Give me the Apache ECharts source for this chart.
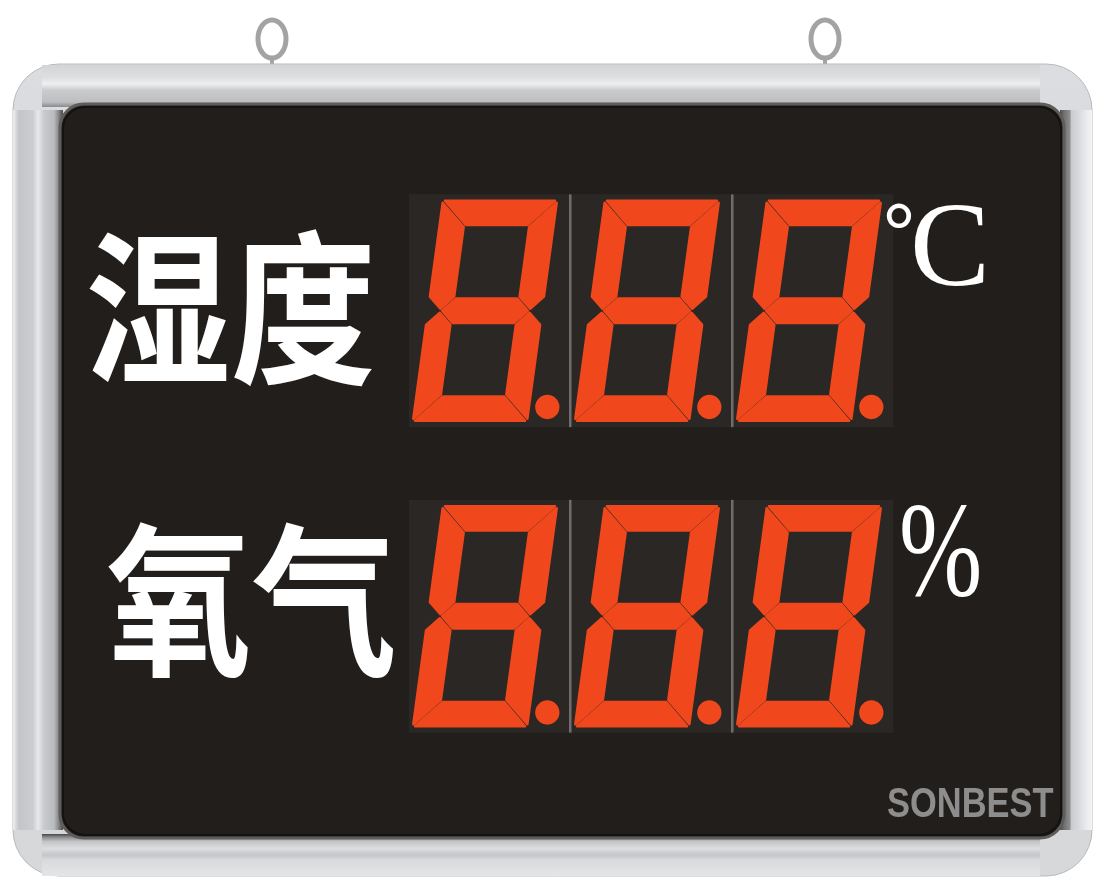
<!DOCTYPE html>
<html>
<head>
<meta charset="utf-8">
<script src="https://cdn.jsdelivr.net/npm/echarts@6/dist/echarts.min.js"></script>
<style>
html,body{margin:0;padding:0;background:#ffffff;}
#c{width:1094px;height:877px;}
</style>
</head>
<body>
<div id="c"></div>
<script>
// ---- data ----
const rowLabels = ['湿度', '氧气'];
const unitLabels = ['°C', '%'];
const digitSlots = ['d1', 'd2', 'd3'];
const humidityDigits = ['8.', '8.', '8.'];
const oxygenDigits = ['8.', '8.', '8.'];
const brandName = 'SONBEST';

// ---- seven segment lookup ----
const SEGMENTS = {'0':'abcdef','1':'bc','2':'abged','3':'abgcd','4':'fgbc','5':'afgcd','6':'afgedc','7':'abc','8':'abcdefg','9':'abcdfg','-':'g',' ':''};

const displayRows = [humidityDigits, oxygenDigits];
const digitData = [];
const digitText = [];
displayRows.forEach(function (row, r) {
  row.forEach(function (d, s) { digitData.push([s, r]); digitText.push(d); });
});
const labelData = rowLabels.map(function (l, r) { return [0, r]; });
const unitData = unitLabels.map(function (u, r) { return [digitSlots.length - 1, r]; });

const LED_ON = '#f0481c';
const LED_OFF = '#3a2c27';
const labelNudge = [{dx: -32, dy: -2}, {dx: -11, dy: -16}];

function renderDigit(params, api) {
  const s = api.value(0), r = api.value(1);
  const c = api.coord([s, r]);
  const sz = api.size([1, 1]);
  const bw = sz[0], bh = sz[1];
  const str = digitText[params.dataIndex];
  const ch = str.replace('.', '');
  const dp = str.indexOf('.') >= 0;
  const lit = SEGMENTS[ch] || '';
  const cellW = bw * 0.99, cellH = bh * 0.762;
  const children = [];
  children.push({type: 'rect', shape: {x: c[0] - bw / 2 + 1, y: c[1] - cellH / 2, width: cellW, height: cellH},
    style: {fill: '#2b2725'}});
  if (s > 0) {
    children.push({type: 'rect', shape: {x: c[0] - bw / 2 - 1, y: c[1] - cellH / 2, width: 2.5, height: cellH},
      style: {fill: '#8f8f8f', opacity: 0.7}});
  }
  const H = bh * 0.36, W = bw * 0.352, t = bw * 0.15, g = 2, k = 0.136, dx = -4;
  function P(u, v) { return [c[0] + dx + u - v * k, c[1] + v]; }
  const segs = {
    a: [[-W + g, -H], [W - g, -H], [W - t - g, -H + t], [-W + t + g, -H + t]],
    d: [[-W + t + g, H - t], [W - t - g, H - t], [W - g, H], [-W + g, H]],
    g: [[-W + t / 2 + g, 0], [-W + t + g, -t / 2], [W - t - g, -t / 2], [W - t / 2 - g, 0], [W - t - g, t / 2], [-W + t + g, t / 2]],
    f: [[-W, -H + g], [-W + t, -H + t + g], [-W + t, -t / 2 - g], [-W + t / 2, -g], [-W, -t / 2 - g]],
    e: [[-W, t / 2 + g], [-W + t / 2, g], [-W + t, t / 2 + g], [-W + t, H - t - g], [-W, H - g]],
    b: [[W, -H + g], [W, -t / 2 - g], [W - t / 2, -g], [W - t, -t / 2 - g], [W - t, -H + t + g]],
    c: [[W - t / 2, g], [W, t / 2 + g], [W, H - g], [W - t, H - t - g], [W - t, t / 2 + g]]
  };
  Object.keys(segs).forEach(function (key) {
    const on = lit.indexOf(key) >= 0;
    children.push({type: 'polygon', shape: {points: segs[key].map(function (p) { return P(p[0], p[1]); })},
      style: {fill: on ? LED_ON : LED_OFF, stroke: on ? LED_ON : LED_OFF, lineWidth: 2.5, lineJoin: 'round'}});
  });
  children.push({type: 'circle', shape: {cx: c[0] + bw * 0.36, cy: c[1] + bh * 0.315, r: bw * 0.075},
    style: {fill: dp ? LED_ON : LED_OFF}});
  return {type: 'group', children: children};
}

function renderLabel(params, api) {
  const r = api.value(1);
  const c = api.coord([api.value(0), r]);
  const bw = api.size([1, 1])[0];
  const n = labelNudge[params.dataIndex] || {dx: -20, dy: 0};
  return {
    type: 'text', x: c[0] - bw / 2 + n.dx, y: c[1] + n.dy, scaleX: 0.88,
    style: {text: rowLabels[params.dataIndex], fill: '#ffffff', fontSize: 165, fontWeight: 'bold',
      fontFamily: '"Noto Sans CJK SC", sans-serif', align: 'right', verticalAlign: 'middle'}
  };
}

function renderUnit(params, api) {
  const r = api.value(1);
  const c = api.coord([api.value(0), r]);
  const bw = api.size([1, 1])[0];
  const xr = c[0] + bw / 2;
  const u = unitLabels[params.dataIndex];
  const font = '"Liberation Serif", "Times New Roman", serif';
  const children = [];
  if (u.charAt(0) === '°') {
    children.push({type: 'text', style: {text: '°', x: xr - 11, y: c[1] - 74, fontSize: 80, fontFamily: font,
      fontWeight: 'bold', fill: '#ffffff', align: 'left', verticalAlign: 'middle'}});
    children.push({type: 'text', style: {text: u.slice(1), x: xr + 16, y: c[1] - 57, fontSize: 120, fontFamily: font,
      fill: '#ffffff', align: 'left', verticalAlign: 'middle'}});
  } else {
    children.push({type: 'text', x: xr + 5, y: c[1] - 57, scaleX: 0.74, style: {text: u, fontSize: 135, fontFamily: font,
      fill: '#ffffff', align: 'left', verticalAlign: 'middle'}});
  }
  return {type: 'group', children: children};
}

function lg(dir, stops) {
  const x2 = dir === 'h' ? 1 : 0, y2 = dir === 'h' ? 0 : 1;
  return {type: 'linear', x: 0, y: 0, x2: x2, y2: y2,
    colorStops: stops.map(function (s) { return {offset: s[0], color: s[1]}; })};
}

const frame = [
  // hooks
  {type: 'ellipse', z: -20, shape: {cx: 272, cy: 39, rx: 14, ry: 19}, style: {fill: 'none', stroke: '#a3a3a3', lineWidth: 5}},
  {type: 'rect', z: -20, shape: {x: 270, y: 57, width: 4, height: 10}, style: {fill: '#a3a3a3'}},
  {type: 'ellipse', z: -20, shape: {cx: 825, cy: 39, rx: 14, ry: 19}, style: {fill: 'none', stroke: '#a3a3a3', lineWidth: 5}},
  {type: 'rect', z: -20, shape: {x: 823, y: 57, width: 4, height: 10}, style: {fill: '#a3a3a3'}},
  // outer silver frame
  {type: 'rect', z: -19, shape: {x: 13, y: 64, width: 1079, height: 812, r: 46},
    style: {fill: lg('v', [[0, '#dcdde0'], [0.5, '#cfd1d4'], [1, '#d6d8da']]), stroke: '#b8babd', lineWidth: 1}},
  // top bar
  {type: 'rect', z: -18, shape: {x: 42, y: 65, width: 998, height: 42},
    style: {fill: lg('v', [[0, '#d3d4d6'], [0.3, '#dedfe1'], [0.45, '#eeeff0'], [0.6, '#c9cbcd'], [0.88, '#bcbec1'], [1, '#8a8a8a']])}},
  // left bar
  {type: 'rect', z: -18, shape: {x: 13, y: 110, width: 50, height: 720},
    style: {fill: lg('h', [[0, '#eeeff0'], [0.12, '#c3c5c8'], [0.4, '#cbcdd0'], [0.5, '#e6e8ea'], [0.62, '#c8cacd'], [0.82, '#b9bbbe'], [0.9, '#8e8f91'], [1, '#4a4846']])}},
  // right bar
  {type: 'rect', z: -18, shape: {x: 1060, y: 110, width: 32, height: 720},
    style: {fill: lg('h', [[0, '#4a4846'], [0.12, '#6f6f6f'], [0.3, '#8c8c8c'], [0.36, '#c9cbce'], [0.6, '#d8dadd'], [0.8, '#e8e9eb'], [1, '#f4f5f6']])}},
  // bottom bar
  {type: 'rect', z: -18, shape: {x: 42, y: 834, width: 998, height: 42},
    style: {fill: lg('v', [[0, '#4a4846'], [0.08, '#8e8f91'], [0.18, '#c3c5c8'], [0.35, '#dcdee0'], [0.5, '#c4c6c9'], [0.62, '#d8dadc'], [1, '#e4e5e7']])}},
  // black panel
  {type: 'rect', z: -17, shape: {x: 60, y: 104, width: 1004, height: 734, r: 24},
    style: {fill: '#221e1b', stroke: '#5f5d5b', lineWidth: 3}},
  {type: 'rect', z: -17, shape: {x: 63, y: 107, width: 998, height: 728, r: 22},
    style: {fill: 'none', stroke: '#141210', lineWidth: 2}},
  // brand
  {type: 'text', z: 10, x: 887, y: 805, scaleX: 0.82,
    style: {text: brandName, fill: '#8d8d8d', fontSize: 42, fontWeight: 'bold',
      fontFamily: '"Liberation Sans", Arial, sans-serif', align: 'left', verticalAlign: 'middle'}}
];

const chart = echarts.init(document.getElementById('c'), null, {renderer: 'canvas'});
chart.setOption({
  animation: false,
  backgroundColor: '#ffffff',
  grid: {left: 408, right: 200, top: 158, bottom: 108},
  xAxis: {type: 'category', data: digitSlots, show: false},
  yAxis: {type: 'category', data: rowLabels, inverse: true, show: false},
  graphic: {elements: frame},
  series: [
    {type: 'custom', name: 'digits', data: digitData, renderItem: renderDigit, z: 2, silent: true},
    {type: 'custom', name: 'labels', data: labelData, renderItem: renderLabel, z: 3, silent: true},
    {type: 'custom', name: 'units', data: unitData, renderItem: renderUnit, z: 3, silent: true}
  ]
});
</script>
</body>
</html>
